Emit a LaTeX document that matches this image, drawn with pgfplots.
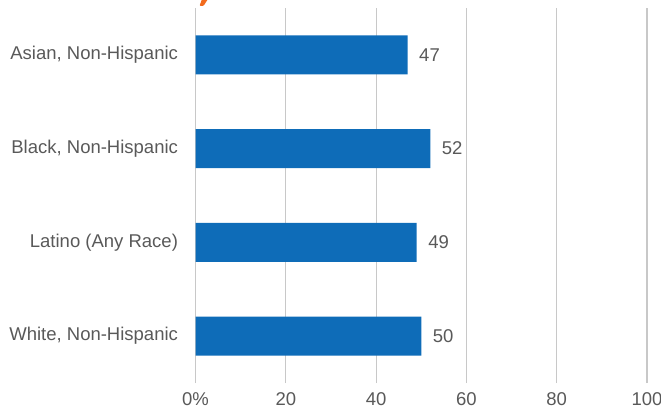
\documentclass[border=0pt]{standalone}
\usepackage{fontspec}
\setmainfont{Liberation Sans}
\usepackage{pgfplots}
\pgfplotsset{compat=1.18}
\definecolor{barblue}{RGB}{14,108,184}
\definecolor{txtgray}{RGB}{89,89,89}
\definecolor{gridgray}{RGB}{200,200,200}
\definecolor{titleorange}{RGB}{242,107,29}
\begin{document}
\begin{tikzpicture}[x=1pt,y=1pt]
\path[use as bounding box] (0,0) rectangle (661,415);
\fill[titleorange, rounded corners=1pt] (202,416) -- (208,416) -- (203.5,409) -- (199.5,409) -- cycle;
\begin{axis}[
  at={(195.5pt,32pt)}, anchor=south west,
  scale only axis, width=451.5pt, height=375pt,
  xbar, bar width=39pt, bar shift=0pt,
  xmin=0, xmax=100, ymin=-0.5, ymax=3.5,
  ytick={0,1,2,3},
  yticklabels={{White, Non-Hispanic},{Latino (Any Race)},{Black, Non-Hispanic},{Asian, Non-Hispanic}},
  xtick={0,20,40,60,80,100},
  xticklabels={0\%,20,40,60,80,100},
  xmajorgrids, ymajorgrids=false,
  grid style={draw=gridgray, line width=1.2pt},
  axis line style={draw=none},
  major tick length=0pt,
  tick style={draw=none},
  /pgf/number format/assume math mode=true,
  ticklabel style={font=\fontsize{18.5}{20}\selectfont, text=txtgray},
  yticklabel style={xshift=-14pt},
  xticklabel style={yshift=-6pt},
  nodes near coords,
  nodes near coords style={anchor=west, xshift=8pt, font=\fontsize{18.5}{20}\selectfont, text=txtgray},
  clip=false,
]
\addplot[draw=none, fill=barblue] coordinates {(50,0) (49,1) (52,2) (47,3)};
\end{axis}
\end{tikzpicture}
\end{document}
